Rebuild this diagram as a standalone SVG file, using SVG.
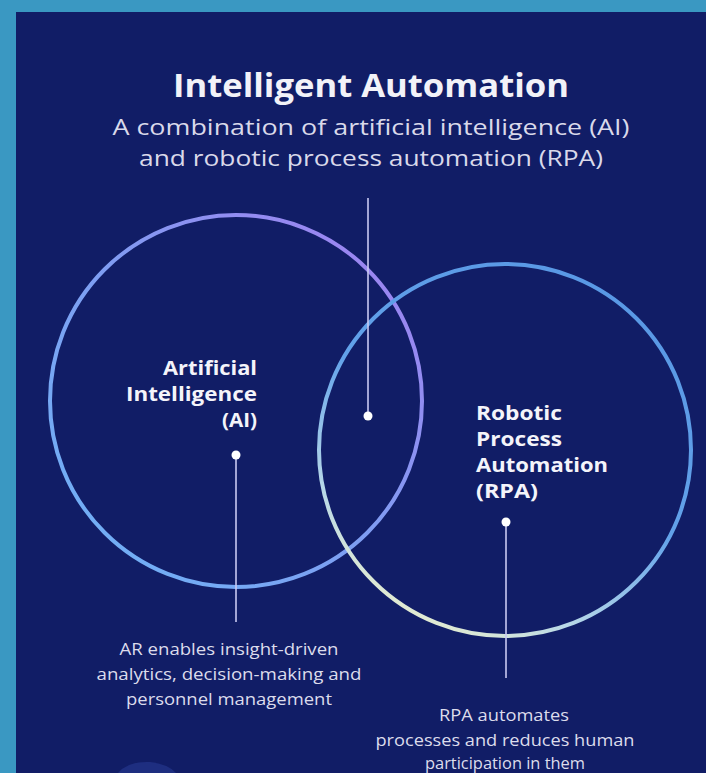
<svg xmlns="http://www.w3.org/2000/svg" width="706" height="773" viewBox="0 0 706 773">
  <defs>
    <linearGradient id="gAI" x1="0" y1="1" x2="1" y2="0">
      <stop offset="0" stop-color="#6db4f6"/>
      <stop offset="0.5" stop-color="#7f9df2"/>
      <stop offset="1" stop-color="#a47df0"/>
    </linearGradient>
    <linearGradient id="gRPA" x1="0.8" y1="0" x2="0.25" y2="1">
      <stop offset="0" stop-color="#5897e4"/>
      <stop offset="0.5" stop-color="#62a2ea"/>
      <stop offset="0.8" stop-color="#b8d8e8"/>
      <stop offset="1" stop-color="#eef0cc"/>
    </linearGradient>
    <style>
      .t { font-family: "Open Sans", "Liberation Sans", sans-serif; }
      .title { font-size: 32px; font-weight: 700; fill: #f2f2f8; }
      .sub { font-size: 22px; font-weight: 400; fill: #d9d9ea; }
      .lbl { font-size: 20px; font-weight: 700; fill: #f4f4fa; }
      .desc { font-size: 16px; font-weight: 400; fill: #dcdcec; }
      .conn { stroke: #c9c9f2; stroke-width: 1.6; fill: none; }
      .dot { fill: #ffffff; }
    </style>
  </defs>
  <rect x="0" y="0" width="706" height="773" fill="#3a98c2"/>
  <rect x="16" y="12" width="690" height="761" fill="#111d66"/>
  <path d="M118 773 Q128 761 150 762 Q168 764 176 773 Z" fill="#1e2e80"/>

  <g id="title">
    <text class="t title" x="371" y="97" text-anchor="middle" textLength="396" lengthAdjust="spacingAndGlyphs">Intelligent Automation</text>
    <text class="t sub" x="371" y="135" text-anchor="middle" textLength="517" lengthAdjust="spacingAndGlyphs">A combination of artificial intelligence (AI)</text>
    <text class="t sub" x="371" y="166" text-anchor="middle" textLength="464" lengthAdjust="spacingAndGlyphs">and robotic process automation (RPA)</text>
  </g>

  <g id="ai">
    <circle cx="236" cy="401" r="186" fill="none" stroke="url(#gAI)" stroke-width="4"/>
    <text class="t lbl" text-anchor="end" x="257" y="375" textLength="94" lengthAdjust="spacingAndGlyphs">Artificial</text>
    <text class="t lbl" text-anchor="end" x="257" y="401" textLength="131" lengthAdjust="spacingAndGlyphs">Intelligence</text>
    <text class="t lbl" text-anchor="end" x="257" y="427" textLength="35" lengthAdjust="spacingAndGlyphs">(AI)</text>
  </g>

  <g id="rpa">
    <circle cx="505" cy="450" r="186" fill="none" stroke="url(#gRPA)" stroke-width="4"/>
    <text class="t lbl" x="476" y="420" textLength="86" lengthAdjust="spacingAndGlyphs">Robotic</text>
    <text class="t lbl" x="476" y="446" textLength="86" lengthAdjust="spacingAndGlyphs">Process</text>
    <text class="t lbl" x="476" y="472" textLength="132" lengthAdjust="spacingAndGlyphs">Automation</text>
    <text class="t lbl" x="476" y="498" textLength="62" lengthAdjust="spacingAndGlyphs">(RPA)</text>
  </g>

  <g id="connectors">
    <line class="conn" x1="368" y1="198" x2="368" y2="416"/>
    <circle class="dot" cx="368" cy="416" r="4.5"/>
    <line class="conn" x1="236" y1="455" x2="236" y2="622"/>
    <circle class="dot" cx="236" cy="455" r="4.5"/>
    <line class="conn" x1="506" y1="522" x2="506" y2="678"/>
    <circle class="dot" cx="506" cy="522" r="4.5"/>
  </g>

  <g id="ai-desc">
    <text class="t desc" text-anchor="middle" x="229" y="655" textLength="219" lengthAdjust="spacingAndGlyphs">AR enables insight-driven</text>
    <text class="t desc" text-anchor="middle" x="229" y="680" textLength="265" lengthAdjust="spacingAndGlyphs">analytics, decision-making and</text>
    <text class="t desc" text-anchor="middle" x="229" y="705" textLength="206" lengthAdjust="spacingAndGlyphs">personnel management</text>
  </g>

  <g id="rpa-desc">
    <text class="t desc" text-anchor="middle" x="504" y="721" textLength="130" lengthAdjust="spacingAndGlyphs">RPA automates</text>
    <text class="t desc" text-anchor="middle" x="505" y="746" textLength="259" lengthAdjust="spacingAndGlyphs">processes and reduces human</text>
    <text class="t desc" text-anchor="middle" x="505" y="769" textLength="160" lengthAdjust="spacingAndGlyphs">participation in them</text>
  </g>
</svg>
